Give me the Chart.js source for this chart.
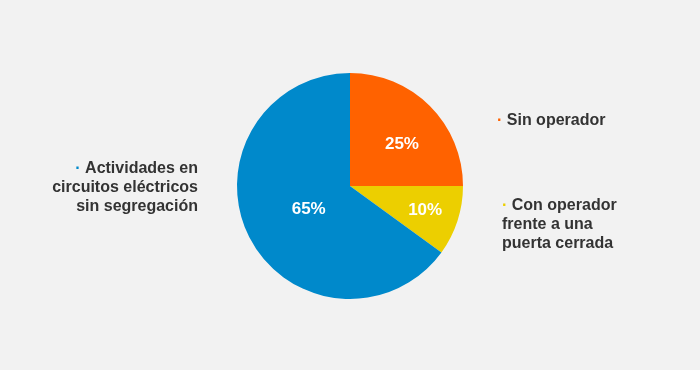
<!DOCTYPE html>
<html>
<head>
<meta charset="utf-8">
<script src="https://cdn.jsdelivr.net/npm/chart.js@4"></script>
<style>
  html, body { margin: 0; padding: 0; background: #f2f2f2; }
  #wrap { width: 700px; height: 370px; }
</style>
</head>
<body>
<div id="wrap"><canvas id="pie-chart" width="700" height="370"></canvas></div>
<script>
const CATEGORIES = [`Sin operador`, `Con operador frente a una puerta cerrada`, `Actividades en circuitos eléctricos sin segregación`];
const VALUES = [25, 10, 65];
const LABEL_LINES = [
  [`Sin operador`],
  [`Con operador`, `frente a una`, `puerta cerrada`],
  [`Actividades en`, `circuitos eléctricos`, `sin segregación`],
];

const FG_ORANGE = `#ff6200`;
const FG_YELLOW = `#eccf00`;
const FG_BLUE = `#0089cb`;
const TEXT_DARK = `#333333`;
const FONT = `"Liberation Sans", Arial, Helvetica, sans-serif`;

// where each outer label sits, relative to the pie centre
const OUTER_LABELS = [
  { dx: 147, dy: -65, align: `left` },
  { dx: 152, dy: 19.5, align: `left` },
  { dx: -152, dy: -17.5, align: `right` },
];
const INNER_RADIUS_FRAC = [0.6, 0.69, 0.42];
const INNER_NUDGE = [[4, 5], [1, -1], [1, 1]];

const pieLabels = {
  id: `pieLabels`,
  afterDatasetsDraw(chart) {
    let ctx = chart.ctx;
    let meta = chart.getDatasetMeta(0);
    let colors = chart.data.datasets[0].backgroundColor;
    ctx.save();
    ctx.textBaseline = `middle`;

    meta.data.forEach((arc, i) => {
      let p = arc.getProps([`x`, `y`, `startAngle`, `endAngle`, `outerRadius`], true);
      let mid = (p.startAngle + p.endAngle) / 2;
      let r = p.outerRadius * INNER_RADIUS_FRAC[i];
      ctx.font = `bold 17px ${FONT}`;
      ctx.fillStyle = `#ffffff`;
      ctx.textAlign = `center`;
      ctx.fillText(`${VALUES[i]}%`, p.x + Math.cos(mid) * r + INNER_NUDGE[i][0], p.y + Math.sin(mid) * r + 1 + INNER_NUDGE[i][1]);

      let pos = OUTER_LABELS[i];
      let lines = LABEL_LINES[i];
      let lineH = 19;
      ctx.font = `bold 16px ${FONT}`;
      lines.forEach((line, j) => {
        let y = p.y + pos.dy + j * lineH;
        let x = p.x + pos.dx;
        if (j === 0) {
          let dot = `\u00b7 `;
          let dotW = ctx.measureText(dot).width;
          let lineW = ctx.measureText(line).width;
          let startX = pos.align === `left` ? x : x - lineW - dotW;
          ctx.textAlign = `left`;
          ctx.fillStyle = colors[i];
          ctx.fillText(dot, startX, y);
          ctx.fillStyle = TEXT_DARK;
          ctx.fillText(line, startX + dotW, y);
        } else {
          ctx.textAlign = pos.align;
          ctx.fillStyle = TEXT_DARK;
          ctx.fillText(line, x, y);
        }
      });
    });
    ctx.restore();
  },
};

let pieChart = new Chart(document.getElementById(`pie-chart`).getContext(`2d`),
{
  type: `pie`,
  data: {
    labels: CATEGORIES,
    datasets: [
    {
      data: VALUES,
      backgroundColor: [FG_ORANGE, FG_YELLOW, FG_BLUE],
      borderWidth: 0,
    },],
  },
  options: {
    responsive: false,
    animation: false,
    layout: { padding: { top: 73, bottom: 71, left: 0, right: 0 } },
    plugins: {
      legend: { display: false },
      tooltip: { enabled: false },
    },
  },
  plugins: [pieLabels],
});
</script>
</body>
</html>
